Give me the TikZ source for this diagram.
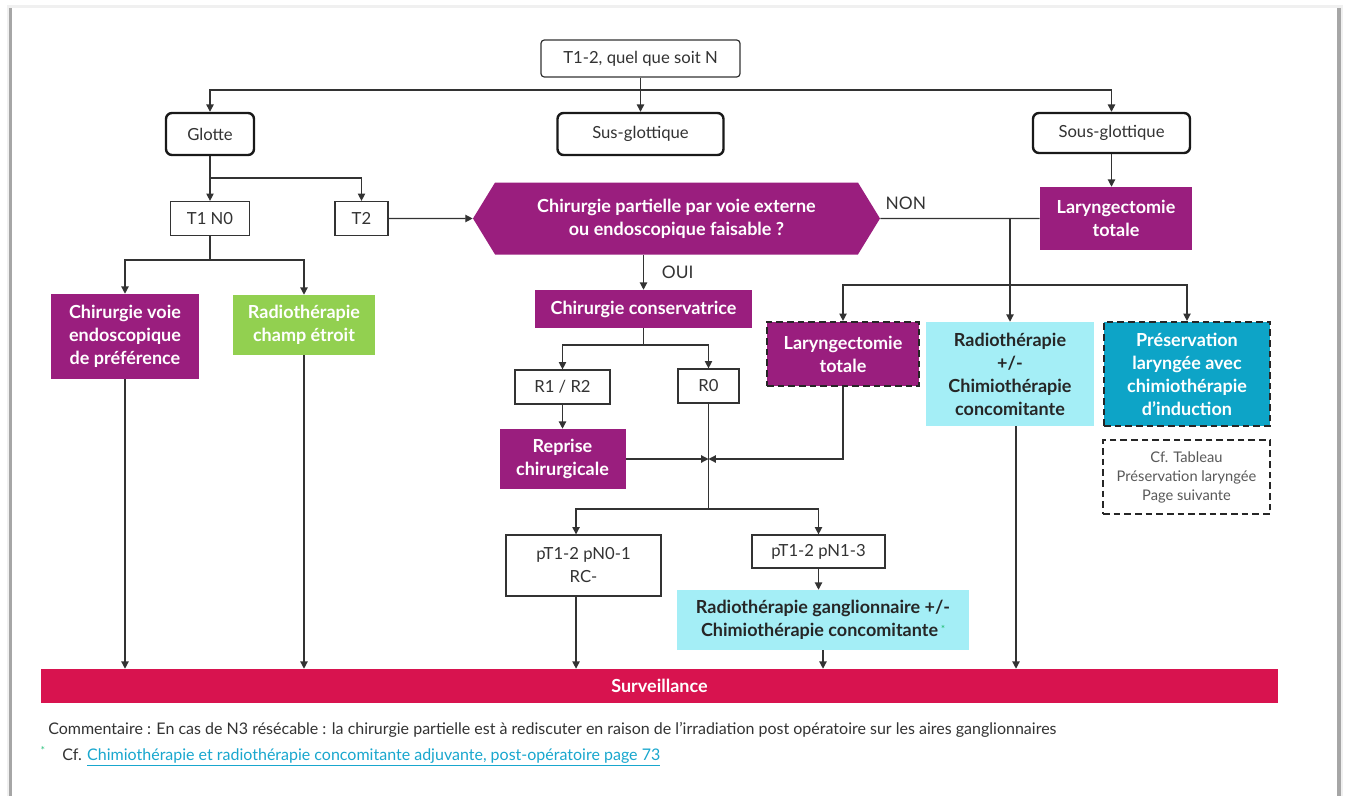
\documentclass[tikz,border=0pt]{standalone}
\usepackage{fontspec}
\setmainfont{Lato}
\usetikzlibrary{arrows.meta,shapes.symbols}

\definecolor{violetC}{HTML}{9A1E7E}
\definecolor{greenC}{HTML}{92D050}
\definecolor{cyanC}{HTML}{A4EEF6}
\definecolor{tealC}{HTML}{0DA4C7}
\definecolor{redC}{HTML}{D8134F}
\definecolor{linkC}{HTML}{19A7CE}
\definecolor{inkC}{HTML}{333333}
\definecolor{starC}{HTML}{2EC27E}

\tikzset{
  arr/.style={draw=inkC, line width=0.9pt, -{Triangle[length=5.5pt,width=5.5pt]}},
  lien/.style={draw=inkC, line width=0.9pt},
  boxw/.style={draw=inkC, line width=0.9pt, fill=white, text=inkC, align=center, inner sep=0pt, font=\fontsize{12.5}{17.25}\selectfont},
  boxp/.style={fill=violetC, text=white, align=center, inner sep=0pt, font=\fontsize{13.5}{17.25}\selectfont\bfseries},
  boxg/.style={boxp, fill=greenC},
  boxc/.style={boxp, fill=cyanC, text=black!85},
  boxt/.style={boxp, fill=tealC},
  pointille/.style={draw=black!85, line width=1.6pt, dash pattern=on 5pt off 3pt},
}

\begin{document}
\begin{tikzpicture}[x=0.75pt,y=0.75pt,yscale=-1,xscale=1]
\useasboundingbox (0,0) rectangle (1346,796);

% page frame
\fill[black!6] (7,5) rectangle (1343,796);
\fill[black!35] (9,8) rectangle (12,796);
\fill[black!35] (1337,8) rectangle (1341,796);
\fill[white] (12,8) rectangle (1337,796);

% Text Node
\node[boxw, rounded corners=2.5pt, minimum width=149.25pt, minimum height=27.75pt] (top) at (640.5,58.5) {T1-2, quel que soit N};
% Text Node
\node[boxw, line width=1.8pt, draw=black!90, rounded corners=4.5pt, minimum width=66pt, minimum height=31.5pt] (glotte) at (210,134) {Glotte};
% Text Node
\node[boxw, line width=1.8pt, draw=black!90, rounded corners=4.5pt, minimum width=124.5pt, minimum height=31.5pt] (sus) at (640.5,134) {Sus-glottique};
% Text Node
\node[boxw, line width=1.8pt, draw=black!90, rounded corners=4.5pt, minimum width=117.75pt, minimum height=30pt] (sous) at (1111.5,133) {Sous-glottique};
% Text Node
\node[boxw, minimum width=59.25pt, minimum height=25.5pt] (t1n0) at (210,218.5) {T1 N0};
% Text Node
\node[boxw, minimum width=39.75pt, minimum height=25.5pt] (t2) at (361.5,218.5) {T2};
% Text Node
\node[boxp, shape=signal, signal to=west and east, signal pointer angle=117, minimum width=305.25pt, minimum height=54pt] (question) at (676.5,218.5) {Chirurgie partielle par voie externe\\ou endoscopique faisable ?};
% Text Node
\node[boxp, minimum width=114pt, minimum height=47.25pt] (laryngoSous) at (1116,218.5) {Laryngectomie\\totale};
% Text Node
\node[boxp, minimum width=111pt, minimum height=63.75pt] (chirEndo) at (125,336.5) {Chirurgie voie\\endoscopique\\de préférence};
% Text Node
\node[boxg, minimum width=106.5pt, minimum height=45pt] (radioChamp) at (304,325) {Radiothérapie\\champ étroit};
% Text Node
\node[boxp, minimum width=162.75pt, minimum height=28.5pt] (chirCons) at (643.5,309) {Chirurgie conservatrice};
% Text Node
\node[boxw, minimum width=71.25pt, minimum height=25.5pt] (r12) at (562.5,387) {R1 / R2};
% Text Node
\node[boxw, minimum width=45.75pt, minimum height=25.5pt] (r0) at (708.5,386) {R0};
% Text Node
\node[boxp, minimum width=94.5pt, minimum height=45pt] (reprise) at (562.5,459) {Reprise\\chirurgicale};
% Text Node
\node[boxp, pointille, minimum width=114pt, minimum height=48pt] (laryngoTot) at (843,354) {Laryngectomie\\totale};
% Text Node
\node[boxc, minimum width=126pt, minimum height=78pt] (radioChimio) at (1010,374) {Radiothérapie\\+/-\\Chimiothérapie\\concomitante};
% Text Node
\node[boxt, pointille, minimum width=124.5pt, minimum height=78pt] (preservation) at (1187,374) {Préservation\\laryngée avec\\chimiothérapie\\d’induction};
% Text Node
\node[boxw, pointille, line width=1.3pt, text=black!65, font=\fontsize{11}{14.25}\selectfont, minimum width=125.25pt, minimum height=55.5pt] (cfTableau) at (1186.5,477) {Cf. Tableau\\Préservation laryngée\\Page suivante};
% Text Node
\node[boxw, minimum width=116.25pt, minimum height=45.75pt] (pn01) at (583.5,565.5) {pT1-2 pN0-1\\RC-};
% Text Node
\node[boxw, minimum width=99.75pt, minimum height=24.75pt] (pn13) at (818.5,551.5) {pT1-2 pN1-3};
% Text Node
\node[boxc, minimum width=219pt, minimum height=45pt] (radioGang) at (823,620) {Radiothérapie ganglionnaire +/-\\Chimiothérapie concomitante\,\raisebox{0.5ex}{\textcolor{starC}{\fontsize{7}{7}\selectfont*}}};
% Text Node
\node[boxp, fill=redC, font=\fontsize{13.5}{15}\selectfont\bfseries, minimum width=927.75pt, minimum height=25.5pt] (surv) at (659.5,686) {Surveillance};

% Text Node
\node[anchor=west, inner sep=0pt, text=inkC, font=\fontsize{12}{14}\selectfont] (comment) at (48,730) {Commentaire : En cas de N3 résécable : la chirurgie partielle est à rediscuter en raison de l’irradiation post opératoire sur les aires ganglionnaires};
% Text Node
\node[anchor=west, inner sep=0pt, text=inkC, font=\fontsize{12}{14}\selectfont] (renvoi) at (62,757) {Cf. \textcolor{linkC}{\underline{Chimiothérapie et radiothérapie concomitante adjuvante, post-opératoire page 73}}};
% Text Node
\node[inner sep=0pt, text=starC, font=\fontsize{8}{8}\selectfont] (etoile) at (43,750) {*};

% junctions
\coordinate (jTop) at (640.5,90);
\coordinate (jGlotte) at (210,178);
\coordinate (jT1) at (210,260);
\coordinate (jNon) at (1010,218.5);
\coordinate (jLar) at (1010,285);
\coordinate (jCons) at (643.5,345);
\coordinate (jMid) at (708.5,459);
\coordinate (jBas) at (708.5,509);
\coordinate (pn01Pied) at ([xshift=-5.6pt]pn01.south);
\coordinate (pn01Tete) at ([xshift=-5.6pt]pn01.north);
\coordinate (radioPied) at ([xshift=4.5pt]radioChimio.south);

% connectors
\draw[lien] (top) -- (jTop);
\draw[arr] (jTop) -| (glotte);
\draw[arr] (jTop) -- (sus);
\draw[arr] (jTop) -| (sous);

\draw[lien] (glotte) -- (jGlotte);
\draw[arr] (jGlotte) -- (t1n0);
\draw[arr] (jGlotte) -| (t2);
\draw[arr] (t2) -- (question);

\draw[lien] (t1n0) -- (jT1);
\draw[arr] (jT1) -| (chirEndo);
\draw[arr] (jT1) -| (radioChamp);

\draw[arr] (question.south -| chirCons) -- node[right=10pt, text=inkC, font=\fontsize{13}{15}\selectfont] {OUI} (chirCons);
\draw[lien] (question) -- node[pos=0.16, above=3pt, text=inkC, font=\fontsize{13}{15}\selectfont] {NON} (laryngoSous);
\draw[arr] (sous) -- (sous |- laryngoSous.north);
\draw[arr] (jNon) -- (radioChimio);
\draw[arr] (jLar) -| (laryngoTot);
\draw[arr] (jLar) -| (preservation);

\draw[lien] (chirCons) -- (jCons);
\draw[arr] (jCons) -| (r12);
\draw[arr] (jCons) -| (r0);
\draw[arr] (r12) -- (reprise);
\draw[arr] (reprise) -- (jMid);
\draw[arr] (laryngoTot) |- (jMid);
\draw[lien] (r0) -- (jBas);
\draw[arr] (jBas) -| (pn01Tete);
\draw[arr] (jBas) -| (pn13);
\draw[arr] (pn13) -- (pn13 |- radioGang.north);

\draw[arr] (chirEndo) -- (chirEndo |- surv.north);
\draw[arr] (radioChamp) -- (radioChamp |- surv.north);
\draw[arr] (pn01Pied) -- (pn01Pied |- surv.north);
\draw[arr] (radioGang) -- (radioGang |- surv.north);
\draw[arr] (radioPied) -- (radioPied |- surv.north);

\end{tikzpicture}
\end{document}
